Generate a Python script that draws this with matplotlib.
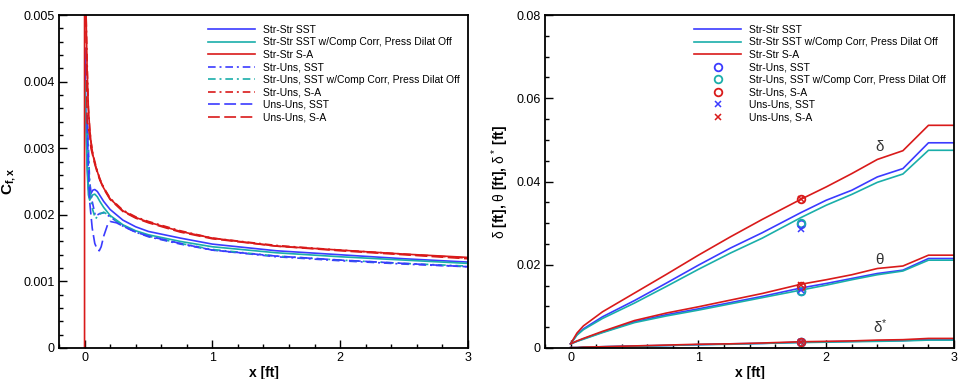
import matplotlib
matplotlib.use("Agg")
import matplotlib.pyplot as plt
from matplotlib.ticker import MultipleLocator, FormatStrFormatter

plt.rcParams['font.family'] = ['Liberation Sans', 'DejaVu Sans']
plt.rcParams['mathtext.fontset'] = 'custom'
plt.rcParams['mathtext.rm'] = 'Liberation Sans'
plt.rcParams['mathtext.bf'] = 'Liberation Sans:bold'
plt.rcParams['mathtext.it'] = 'Liberation Sans:italic'
plt.rcParams['lines.scale_dashes'] = False

BLUE = '#3b3bff'
TEAL = '#1aaeaa'
RED = '#d91a1a'

# ---- left plot: skin friction ----
cf_x_red = [0, 0, 0.01, 0.02, 0.03, 0.04, 0.05, 0.065, 0.08, 0.1, 0.12, 0.15, 0.2, 0.3, 0.4, 0.5, 0.75, 1.0, 1.5, 2.0, 2.5, 3.0]
cf_strstr_sa = [0, 0.0052, 0.0052, 0.0042, 0.0036, 0.0033, 0.0031, 0.0029, 0.00278, 0.00265, 0.00253, 0.0024, 0.00224, 0.00206, 0.00196, 0.00189, 0.00175, 0.00165, 0.00153, 0.00147, 0.00141, 0.00136]
cf_x_redu = [0.01, 0.02, 0.03, 0.04, 0.05, 0.065, 0.08, 0.1, 0.12, 0.15, 0.2, 0.3, 0.4, 0.5, 0.75, 1.0, 1.5, 2.0, 2.5, 3.0]
cf_struns_sa = [0.0052, 0.0043, 0.0036, 0.0033, 0.0031, 0.00292, 0.0028, 0.00266, 0.00254, 0.00241, 0.00225, 0.00207, 0.00197, 0.0019, 0.00176, 0.00165, 0.00154, 0.00147, 0.00141, 0.00135]
cf_unsuns_sa = [0.0050, 0.0034, 0.0033, 0.0032, 0.0030, 0.00288, 0.00276, 0.00263, 0.00252, 0.00239, 0.00223, 0.00205, 0.00195, 0.00188, 0.00174, 0.00164, 0.00153, 0.00146, 0.0014, 0.00134]

cf_x_sst = [0.003, 0.01, 0.02, 0.03, 0.04, 0.05, 0.065, 0.08, 0.1, 0.12, 0.15, 0.2, 0.3, 0.4, 0.5, 0.75, 1.0, 1.5, 2.0, 2.5, 3.0]
cf_strstr_sst = [0.0045, 0.0036, 0.0028, 0.0024, 0.00228, 0.00232, 0.00237, 0.00238, 0.00235, 0.00229, 0.0022, 0.00208, 0.00192, 0.00182, 0.00175, 0.00165, 0.00156, 0.00146, 0.0014, 0.00134, 0.00129]
cf_strstr_sst_cc = [0.0040, 0.0034, 0.0027, 0.0023, 0.00222, 0.00226, 0.0023, 0.00231, 0.00227, 0.0022, 0.00211, 0.00199, 0.00185, 0.00176, 0.0017, 0.0016, 0.00152, 0.00143, 0.00137, 0.00132, 0.00127]

cf_x_uns = [0.02, 0.03, 0.04, 0.06, 0.085, 0.12, 0.15, 0.2, 0.3, 0.4, 0.5, 0.75, 1.0, 1.5, 2.0, 2.5, 3.0]
cf_struns_sst = [0.0035, 0.0030, 0.0025, 0.0022, 0.00198, 0.00202, 0.00203, 0.00197, 0.00183, 0.00174, 0.00167, 0.00156, 0.00147, 0.00137, 0.00131, 0.00126, 0.00122]
cf_struns_sst_cc = [0.0034, 0.0029, 0.0024, 0.0021, 0.00194, 0.00201, 0.00204, 0.00198, 0.00184, 0.00175, 0.00168, 0.00157, 0.00148, 0.00138, 0.00132, 0.00127, 0.00123]

cf_x_unsuns = [0.02, 0.03, 0.04, 0.06, 0.08, 0.1, 0.115, 0.13, 0.15, 0.18, 0.2, 0.25, 0.3, 0.4, 0.5, 0.75, 1.0, 1.5, 2.0, 2.5, 3.0]
cf_unsuns_sst = [0.0034, 0.0027, 0.0022, 0.0018, 0.00157, 0.00148, 0.00146, 0.00152, 0.00168, 0.00185, 0.0019, 0.00188, 0.00183, 0.00174, 0.00168, 0.00157, 0.00147, 0.00138, 0.00132, 0.00127, 0.00122]

# ---- right plot: boundary layer thicknesses ----
bl_x = [0, 0.05, 0.1, 0.25, 0.5, 0.75, 1.0, 1.25, 1.5, 1.8, 2.0, 2.2, 2.4, 2.6, 2.8, 3.0]
delta_sst = [0.001, 0.0032, 0.0046, 0.0075, 0.0114, 0.0156, 0.0199, 0.0240, 0.0277, 0.0325, 0.0355, 0.0379, 0.0411, 0.0431, 0.0493, 0.0493]
delta_sst_cc = [0.001, 0.0031, 0.0044, 0.0071, 0.0108, 0.0148, 0.0189, 0.0228, 0.0264, 0.0313, 0.0343, 0.0369, 0.0398, 0.0418, 0.0475, 0.0475]
delta_sa = [0.001, 0.0036, 0.0053, 0.0087, 0.0132, 0.0177, 0.0223, 0.0267, 0.0309, 0.0357, 0.0387, 0.0419, 0.0453, 0.0474, 0.0535, 0.0535]
theta_sst = [0.001, 0.0016, 0.0022, 0.0038, 0.0063, 0.0080, 0.0094, 0.0109, 0.0124, 0.0144, 0.0155, 0.0167, 0.0179, 0.0187, 0.0215, 0.0215]
theta_sst_cc = [0.001, 0.0016, 0.0021, 0.0037, 0.0061, 0.0077, 0.0091, 0.0106, 0.0121, 0.0139, 0.0151, 0.0164, 0.0176, 0.0185, 0.0211, 0.0211]
theta_sa = [0.001, 0.0017, 0.0023, 0.0040, 0.0066, 0.0084, 0.0099, 0.0115, 0.0131, 0.0153, 0.0164, 0.0176, 0.0191, 0.0197, 0.0223, 0.0223]
dstar_sst = [0.0001, 0.0001, 0.0002, 0.0003, 0.0005, 0.0006, 0.0008, 0.0010, 0.0011, 0.0014, 0.0015, 0.0016, 0.0017, 0.0018, 0.0020, 0.0020]
dstar_sst_cc = [0.0001, 0.0001, 0.0002, 0.0003, 0.0004, 0.0006, 0.0008, 0.0009, 0.0011, 0.0013, 0.0014, 0.0015, 0.0016, 0.0017, 0.0019, 0.0019]
dstar_sa = [0.0001, 0.0001, 0.0002, 0.0003, 0.0005, 0.0007, 0.0009, 0.0010, 0.0012, 0.0015, 0.0016, 0.0017, 0.0019, 0.0020, 0.0023, 0.0023]

x_probe = [1.8, 1.8, 1.8]
struns_sst_pts = [0.0298, 0.0138, 0.0015]
struns_sst_cc_pts = [0.0300, 0.0137, 0.0015]
struns_sa_pts = [0.0357, 0.0150, 0.0015]
unsuns_sst_pts = [0.0287, 0.0140, 0.0015]
unsuns_sa_pts = [0.0357, 0.0151, 0.0015]

lbl = ['Str-Str SST', 'Str-Str SST w/Comp Corr, Press Dilat Off', 'Str-Str S-A',
       'Str-Uns, SST', 'Str-Uns, SST w/Comp Corr, Press Dilat Off', 'Str-Uns, S-A',
       'Uns-Uns, SST', 'Uns-Uns, S-A']

DASH = (0, (8.5, 3.2))
DASHDOT = (0, (5.5, 2.8, 1.4, 2.8))
lw = 1.2

fig = plt.figure(figsize=(9.75, 3.79), dpi=100)
ax1 = fig.add_axes([0.0605, 0.0818, 0.4195, 0.8786])
ax2 = fig.add_axes([0.559, 0.0818, 0.4195, 0.8786])

ax1.plot(cf_x_sst, cf_strstr_sst, color=BLUE, lw=lw, label=lbl[0])
ax1.plot(cf_x_sst, cf_strstr_sst_cc, color=TEAL, lw=lw, label=lbl[1])
ax1.plot(cf_x_red, cf_strstr_sa, color=RED, lw=lw, label=lbl[2])
ax1.plot(cf_x_uns, cf_struns_sst, color=BLUE, lw=lw, ls=DASHDOT, label=lbl[3])
ax1.plot(cf_x_uns, cf_struns_sst_cc, color=TEAL, lw=lw, ls=DASHDOT, label=lbl[4])
ax1.plot(cf_x_redu, cf_struns_sa, color=RED, lw=lw, ls=DASHDOT, label=lbl[5])
ax1.plot(cf_x_unsuns, cf_unsuns_sst, color=BLUE, lw=lw, ls=DASH, label=lbl[6])
ax1.plot(cf_x_redu, cf_unsuns_sa, color=RED, lw=lw, ls=DASH, label=lbl[7])

ax1.set_xlim(-0.2, 3)
ax1.set_ylim(0, 0.005)
ax1.yaxis.set_major_locator(MultipleLocator(0.001))
ax1.yaxis.set_minor_locator(MultipleLocator(0.0002))
ax1.yaxis.set_major_formatter(FormatStrFormatter('%g'))
ax1.set_ylabel(r'$\mathbf{C_{f,x}}$', fontsize=11, labelpad=4)

ax2.plot(bl_x, delta_sst, color=BLUE, lw=lw, label=lbl[0])
ax2.plot(bl_x, delta_sst_cc, color=TEAL, lw=lw, label=lbl[1])
ax2.plot(bl_x, delta_sa, color=RED, lw=lw, label=lbl[2])
for ys, c in [(theta_sst, BLUE), (theta_sst_cc, TEAL), (theta_sa, RED),
              (dstar_sst, BLUE), (dstar_sst_cc, TEAL), (dstar_sa, RED)]:
    ax2.plot(bl_x, ys, color=c, lw=lw)
ax2.plot(x_probe, struns_sst_pts, ls='none', marker='o', ms=5.5, mfc='none', mec=BLUE, mew=1.3, label=lbl[3])
ax2.plot(x_probe, struns_sst_cc_pts, ls='none', marker='o', ms=5.5, mfc='none', mec=TEAL, mew=1.3, label=lbl[4])
ax2.plot(x_probe, struns_sa_pts, ls='none', marker='o', ms=5.5, mfc='none', mec=RED, mew=1.3, label=lbl[5])
ax2.plot(x_probe, unsuns_sst_pts, ls='none', marker='x', ms=4, mec=BLUE, mew=1.1, label=lbl[6])
ax2.plot(x_probe, unsuns_sa_pts, ls='none', marker='x', ms=4, mec=RED, mew=1.1, label=lbl[7])

ax2.text(2.42, 0.0483, r'$\mathrm{\delta}$', fontsize=11, color='#333333', ha='center', va='center')
ax2.text(2.42, 0.0212, r'$\mathrm{\theta}$', fontsize=11, color='#333333', ha='center', va='center')
ax2.text(2.42, 0.0052, r'$\mathrm{\delta}^{*}$', fontsize=11, color='#333333', ha='center', va='center')

ax2.set_xlim(-0.2, 3)
ax2.set_ylim(0, 0.08)
ax2.yaxis.set_major_locator(MultipleLocator(0.02))
ax2.yaxis.set_minor_locator(MultipleLocator(0.005))
ax2.yaxis.set_major_formatter(FormatStrFormatter('%g'))
ax2.set_ylabel(r'$\mathrm{\delta}$ [ft], $\mathrm{\theta}$ [ft], $\mathrm{\delta}^*$ [ft]', fontsize=10, fontweight='bold', labelpad=4)

for ax in (ax1, ax2):
    ax.xaxis.set_major_locator(MultipleLocator(1))
    ax.xaxis.set_minor_locator(MultipleLocator(0.2))
    ax.xaxis.set_major_formatter(FormatStrFormatter('%g'))
    ax.set_xlabel('x [ft]', fontsize=10, fontweight='bold', labelpad=1)
    ax.tick_params(which='both', direction='in', top=False, right=False, labelsize=9, width=1)
    ax.tick_params(which='major', length=6, pad=3)
    ax.tick_params(which='minor', length=3)
    for s in ax.spines.values():
        s.set_linewidth(1.3)
    leg = ax.legend(loc='upper left', bbox_to_anchor=(0.365, 0.97), frameon=False, fontsize=7.5,
                    handlelength=4.5, handletextpad=0.75, labelspacing=0.24, borderpad=0, borderaxespad=0)

fig.savefig('out.png', dpi=100)
